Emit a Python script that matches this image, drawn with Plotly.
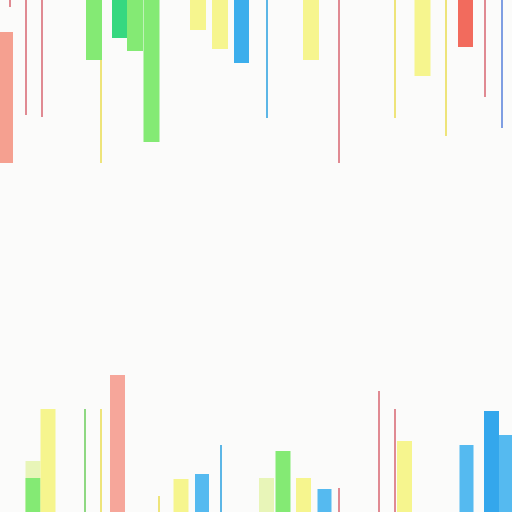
import plotly.graph_objects as go

FLOOR = 512

# hanging marks: centre, start, length
salmon_top_x = [6.5]
salmon_top_start = [32]
salmon_top_len = [131]
red_top_x = [465.5]
red_top_len = [47]
green_top_x = [94, 135, 151.5]
green_top_len = [60, 51, 142]
teal_top_x = [119.5]
teal_top_len = [38]
yellow_top_x = [198, 220, 311, 422.5]
yellow_top_len = [30, 49, 60, 76]
blue_top_x = [241.5]
blue_top_len = [63]

pink_line_top_x = [10, 26, 42, 339, 485]
pink_line_top_len = [7, 115, 117, 163, 97]
yellow_line_top_x = [101, 395, 446]
yellow_line_top_start = [60, 0, 0]
yellow_line_top_len = [103, 118, 136]
blue_line_top_x = [267]
blue_line_top_len = [118]
violet_line_top_x = [502]
violet_line_top_len = [128]

# standing marks: centre, height
salmon_bot_x = [117.5]
salmon_bot_h = [137]
green_bot_x = [33, 283]
green_bot_h = [34, 61]
pale_bot_x = [33, 266.5]
pale_bot_h = [51, 34]
yellow_bot_x = [48, 181, 303.5, 404.5]
yellow_bot_h = [103, 33, 34, 71]
blue_bot_x = [202, 324.5, 466.5, 505.5]
blue_bot_h = [38, 23, 67, 77]
deep_blue_bot_x = [491.5]
deep_blue_bot_h = [101]

pink_line_bot_x = [339, 379, 395]
pink_line_bot_h = [24, 121, 103]
yellow_line_bot_x = [101, 159]
yellow_line_bot_h = [103, 16]
green_line_bot_x = [85]
green_line_bot_h = [103]
blue_line_bot_x = [221]
blue_line_bot_h = [67]

BG = "#FBFBFA"

fig = go.Figure()


def hang(x, length, color, width, start=None):
    if start is None:
        start = [0] * len(x)
    fig.add_trace(go.Bar(x=x, y=length, base=start, width=width,
                         marker=dict(color=color, line=dict(width=0)),
                         hoverinfo="skip"))


def stand(x, h, color, width):
    fig.add_trace(go.Bar(x=x, y=h, base=[FLOOR - v for v in h], width=width,
                         marker=dict(color=color, line=dict(width=0)),
                         hoverinfo="skip"))


hang(salmon_top_x, salmon_top_len, "#F5A090", 13, salmon_top_start)
hang(red_top_x, red_top_len, "#F26B5D", 15)
hang(green_top_x, green_top_len, "#84EA74", 16)
hang(teal_top_x, teal_top_len, "#36D880", 15)
hang(yellow_top_x, yellow_top_len, "#F6F58E", 16)
hang(blue_top_x, blue_top_len, "#3CAEEC", 15)
hang(pink_line_top_x, pink_line_top_len, "#E08A92", 1.5)
hang(yellow_line_top_x, yellow_line_top_len, "#EEE47A", 1.5, yellow_line_top_start)
hang(blue_line_top_x, blue_line_top_len, "#5CB6E6", 1.5)
hang(violet_line_top_x, violet_line_top_len, "#7F9EE2", 1.5)

stand(pale_bot_x, pale_bot_h, "#E8F5B8", 15)
stand(salmon_bot_x, salmon_bot_h, "#F6A69A", 15)
stand(green_bot_x, green_bot_h, "#84EA74", 15)
stand(yellow_bot_x, yellow_bot_h, "#F6F58E", 15)
stand(blue_bot_x, blue_bot_h, "#55BAF0", 14)
stand(deep_blue_bot_x, deep_blue_bot_h, "#34A7EC", 15)
stand(pink_line_bot_x, pink_line_bot_h, "#E08A92", 1.5)
stand(yellow_line_bot_x, yellow_line_bot_h, "#EEE47A", 1.5)
stand(green_line_bot_x, green_line_bot_h, "#8ED882", 1.5)
stand(blue_line_bot_x, blue_line_bot_h, "#5CB6E6", 1.5)

fig.update_layout(
    width=512, height=512,
    margin=dict(l=0, r=0, t=0, b=0),
    paper_bgcolor=BG, plot_bgcolor=BG,
    barmode="overlay", showlegend=False,
    xaxis=dict(range=[0, 512], visible=False, fixedrange=True),
    yaxis=dict(range=[512, 0], visible=False, fixedrange=True),
)

# the page's default body margin would push the plot off by 8px
fig.write_html("out.html", config=dict(displayModeBar=False),
               post_script="document.body.style.margin='0';"
                           "document.body.style.background='" + BG + "';")
